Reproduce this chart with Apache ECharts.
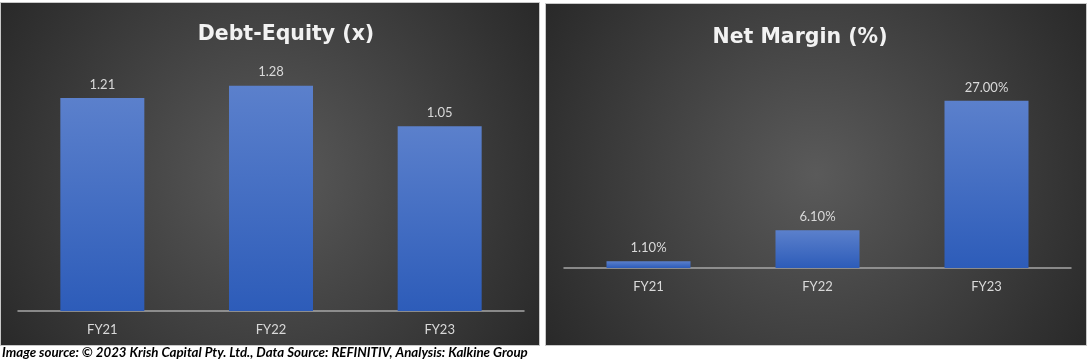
<!DOCTYPE html>
<html>
<head>
<meta charset="utf-8">
<script src="https://cdn.jsdelivr.net/npm/echarts@6/dist/echarts.min.js"></script>
<style>
html,body{margin:0;padding:0;background:#fff;}
#c{width:1090px;height:361px;}
</style>
</head>
<body>
<div id="c"></div>
<script>
const categories = ['FY21', 'FY22', 'FY23'];
const debtEquity = [1.21, 1.28, 1.05];
const netMargin = [1.10, 6.10, 27.00];
const chartTitles = ['Debt-Equity (x)', 'Net Margin (%)'];
const caption = 'Image source: \u00A9 2023 Krish Capital Pty. Ltd., Data Source: REFINITIV, Analysis: Kalkine Group';

const chart = echarts.init(document.getElementById('c'), null, {renderer: 'canvas'});

const panelFill = {
  type: 'radial', x: 0.5, y: 0.5, r: 0.95,
  colorStops: [{offset: 0, color: '#5a5a5a'}, {offset: 1, color: '#282828'}]
};
const barFill = {
  type: 'linear', x: 0, y: 0, x2: 0, y2: 1,
  colorStops: [{offset: 0, color: '#5b80cc'}, {offset: 1, color: '#2d5cb9'}]
};
const titleFont = 'bold 20.5px "DejaVu Sans", sans-serif';
const smallFont = 'Lato, "Open Sans", sans-serif';

function barSeries(idx, data, fmt) {
  return {
    type: 'bar', xAxisIndex: idx, yAxisIndex: idx, data: data,
    barWidth: 84,
    itemStyle: {color: barFill},
    label: {
      show: true, position: 'top', distance: 7,
      color: '#d9d9d9', fontSize: 13, fontFamily: smallFont,
      formatter: p => fmt(p.value)
    },
    silent: true
  };
}

function xAx(idx) {
  return {
    type: 'category', gridIndex: idx, data: categories,
    axisLine: {lineStyle: {color: '#a6a6a6', width: 1.5}},
    axisTick: {show: false},
    axisLabel: {color: '#d9d9d9', fontSize: 13, margin: 12, fontFamily: smallFont}
  };
}
function yAx(idx, max) {
  return {
    type: 'value', gridIndex: idx, min: 0, max: max,
    show: false, splitLine: {show: false}
  };
}

chart.setOption({
  animation: false,
  backgroundColor: '#ffffff',
  graphic: [
    {type: 'rect', z: -10, shape: {x: 0.5, y: 2.5, width: 539, height: 343},
     style: {fill: panelFill, stroke: '#c8c8c8', lineWidth: 1}},
    {type: 'rect', z: -10, shape: {x: 545.5, y: 3.5, width: 541, height: 342},
     style: {fill: panelFill, stroke: '#c8c8c8', lineWidth: 1}},
    {type: 'text', z: 10, x: 286, y: 34.5,
     style: {text: chartTitles[0], font: titleFont, fill: '#f2f2f2', align: 'center', verticalAlign: 'middle',
             shadowBlur: 4, shadowColor: 'rgba(0,0,0,0.8)', shadowOffsetX: 1, shadowOffsetY: 1}},
    {type: 'text', z: 10, x: 800, y: 37.5,
     style: {text: chartTitles[1], font: titleFont, fill: '#f2f2f2', align: 'center', verticalAlign: 'middle',
             shadowBlur: 4, shadowColor: 'rgba(0,0,0,0.8)', shadowOffsetX: 1, shadowOffsetY: 1}},
    {type: 'text', z: 10, x: 2, y: 353,
     style: {text: caption, font: 'italic bold 13.3px Lato, "Open Sans", sans-serif', fill: '#000000',
             align: 'left', verticalAlign: 'middle'}}
  ],
  grid: [
    {left: 18, right: 566, top: 47, bottom: 50},
    {left: 564, right: 19, top: 82.3, bottom: 93}
  ],
  xAxis: [xAx(0), xAx(1)],
  yAxis: [yAx(0, 1.5), yAx(1, 30)],
  series: [
    barSeries(0, debtEquity, v => v.toFixed(2)),
    barSeries(1, netMargin, v => v.toFixed(2) + '%')
  ]
});
</script>
</body>
</html>
